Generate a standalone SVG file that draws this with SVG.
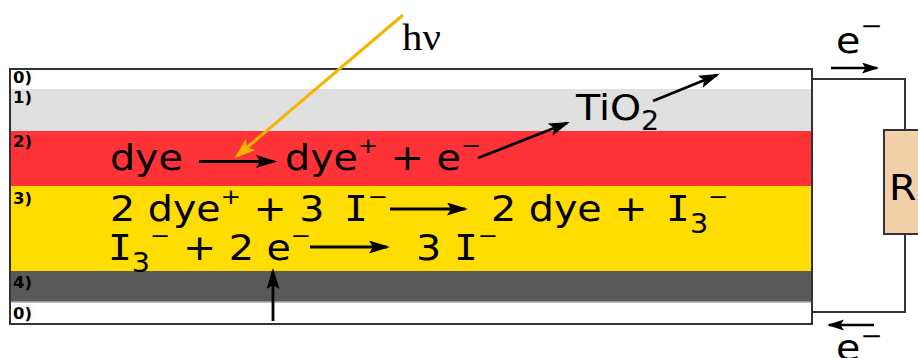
<svg xmlns="http://www.w3.org/2000/svg" width="918" height="358" viewBox="0 0 918 358">
  <style>
    .eq { font-family: "DejaVu Sans", Verdana, sans-serif; font-size: 36px; fill: #000; }
    .iota { font-family: "DejaVu Sans Mono", monospace; }
    .lbl { font-family: "DejaVu Sans", Verdana, sans-serif; font-size: 15px; font-weight: bold; fill: #000; }
    .wire { fill: none; stroke: #333; stroke-width: 2; }
    .arr { fill: none; stroke: #000; stroke-width: 2.8; marker-end: url(#head); }
    .arr-s { fill: none; stroke: #000; stroke-width: 2.6; marker-end: url(#head-s); }
  </style>
  <defs>
    <marker id="head" markerUnits="userSpaceOnUse" markerWidth="22" markerHeight="14" refX="18" refY="6.5" orient="auto">
      <path d="M0,0 L21,6.5 L0,13 L4,6.5 z" fill="#000"/>
    </marker>
    <marker id="head-s" markerUnits="userSpaceOnUse" markerWidth="18" markerHeight="12" refX="15" refY="5.5" orient="auto">
      <path d="M0,0 L17,5.5 L0,11 L3.5,5.5 z" fill="#000"/>
    </marker>
    <marker id="head-y" markerUnits="userSpaceOnUse" markerWidth="22" markerHeight="16" refX="18" refY="7.5" orient="auto">
      <path d="M0,0 L21,7.5 L0,15 L5,7.5 z" fill="#f4b400"/>
    </marker>
  </defs>

  <!-- cell layers -->
  <g id="cell">
    <rect x="10" y="69" width="802" height="20" fill="#ffffff"/>
    <rect x="10" y="89" width="802" height="42" fill="#e0e0e0"/>
    <rect x="10" y="131" width="802" height="55" fill="#fe3337"/>
    <rect x="10" y="186" width="802" height="85" fill="#ffdd00"/>
    <rect x="10" y="271" width="802" height="31" fill="#595959"/>
    <rect x="10" y="302" width="802" height="22" fill="#ffffff"/>
    <line x1="10" y1="302" x2="812" y2="302" stroke="#a8a8a8" stroke-width="1.5"/>
    <rect x="10" y="69" width="802" height="255" fill="none" stroke="#333" stroke-width="2"/>
    <g transform="scale(1.1,1)">
      <text class="lbl" x="11.8" y="83">0)</text>
      <text class="lbl" x="11.8" y="103">1)</text>
      <text class="lbl" x="11.8" y="147">2)</text>
      <text class="lbl" x="11.8" y="204">3)</text>
      <text class="lbl" x="11.8" y="288">4)</text>
      <text class="lbl" x="11.8" y="319">0)</text>
    </g>
  </g>

  <!-- load resistor -->
  <g id="resistor">
    <rect x="884" y="130" width="40" height="104" fill="#f2d1aa" stroke="#333" stroke-width="2"/>
    <text class="eq" transform="scale(1.1,1)" x="808.2" y="200">R</text>
  </g>

  <!-- reactions -->
  <g id="dye-excitation">
    <text class="eq" transform="scale(1.1,1)" y="170"><tspan x="100">dye</tspan></text>
    <text class="eq" transform="scale(1.1,1)" y="170"><tspan x="259.1">dye</tspan><tspan font-size="22" dy="-17">+</tspan><tspan dy="17"> + e</tspan><tspan font-size="22" dy="-17">−</tspan></text>
  </g>
  <g id="tio2">
    <text class="eq" transform="scale(1.1,1)" x="523.6" y="120">TiO<tspan font-size="26" dy="10">2</tspan></text>
  </g>
  <g id="regeneration">
    <text class="eq" transform="scale(1.1,1)" y="221"><tspan x="100">2 dye</tspan><tspan font-size="22" dy="-17">+</tspan><tspan dy="17"> + 3 </tspan><tspan class="iota" x="312.7">I</tspan><tspan font-size="22" dy="-17">−</tspan></text>
    <text class="eq" transform="scale(1.1,1)" y="221"><tspan x="446.4">2 dye + </tspan><tspan class="iota" x="605.5">I</tspan><tspan font-size="26" dy="12">3</tspan><tspan font-size="22" dy="-29">−</tspan></text>
  </g>
  <g id="reduction">
    <text class="eq" transform="scale(1.1,1)" y="260"><tspan class="iota" x="98.2">I</tspan><tspan font-size="26" dy="12">3</tspan><tspan font-size="22" dy="-29">−</tspan><tspan dy="17"> + 2 e</tspan><tspan font-size="22" dy="-17">−</tspan></text>
    <text class="eq" transform="scale(1.1,1)" y="260"><tspan x="378.2">3 </tspan><tspan class="iota" x="412.7">I</tspan><tspan font-size="22" dy="-17">−</tspan></text>
  </g>
  <g id="photon">
    <text transform="scale(1.1,1)" x="365.5" y="50" font-family="'Liberation Serif', 'Times New Roman', serif" font-size="37">hν</text>
  </g>
  <g id="electron-out">
    <text class="eq" transform="scale(1.1,1)" x="760" y="53" font-size="40">e<tspan font-size="24" dy="-19">−</tspan></text>
  </g>
  <g id="electron-in">
    <text class="eq" transform="scale(1.1,1)" x="760" y="360" font-size="40">e<tspan font-size="24" dy="-16">−</tspan></text>
  </g>

  <!-- connectors -->
  <g id="connectors">
    <polyline class="wire" points="812,79 905,79 905,130"/>
    <polyline class="wire" points="905,234 905,312 812,312"/>
    <line x1="403" y1="15" x2="237" y2="156" stroke="#f4b400" stroke-width="3" marker-end="url(#head-y)"/>
    <line class="arr" x1="199" y1="161.5" x2="274" y2="161.5"/>
    <line class="arr" x1="478" y1="158" x2="567" y2="123"/>
    <line class="arr" x1="653" y1="101" x2="717" y2="75"/>
    <line class="arr" x1="390" y1="209" x2="465" y2="209"/>
    <line class="arr" x1="310" y1="247" x2="387" y2="247"/>
    <line class="arr" x1="273" y1="321" x2="273" y2="271"/>
    <line class="arr-s" x1="831" y1="68" x2="877" y2="68"/>
    <line class="arr-s" x1="874" y1="325" x2="829" y2="325"/>
  </g>
</svg>
